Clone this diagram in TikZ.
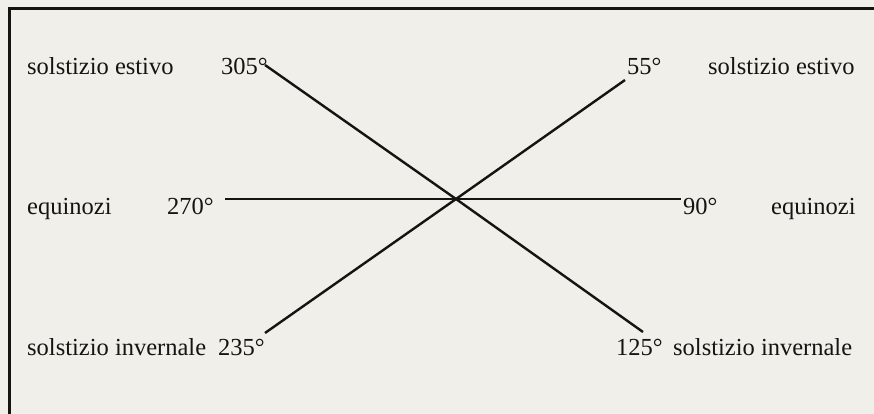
\documentclass[tikz,border=0pt]{standalone}
\usepackage{fontspec}
\setmainfont{Liberation Serif}
\definecolor{paper}{RGB}{240,239,234}
\definecolor{ink}{RGB}{22,20,18}
\begin{document}
\begin{tikzpicture}[x=1pt,y=-1pt,
  lbl/.style={anchor=base west,inner sep=0pt,text=ink,font=\fontsize{24.5}{29}\selectfont},
  frameline/.style={draw=ink,line width=3pt},
  axis/.style={draw=ink,line width=2.4pt}]
\fill[paper] (0,0) rectangle (874,414);
\useasboundingbox (0,0) rectangle (874,414);
% frame (top and left edges visible)
\coordinate (fTL) at (9,9);
\coordinate (fTR) at (874,9);
\coordinate (fBL) at (9,414);
\draw[frameline] (fTR) -- (fTL) -- (fBL);
% line ends
\coordinate (c) at (456,199);
\coordinate (e305) at (265,65);
\coordinate (e125) at (643,332);
\coordinate (e55) at (625,80);
\coordinate (e235) at (265,333);
\coordinate (e270) at (225,199);
\coordinate (e90) at (681,199);
\draw[axis] (e270) -- (c) -- (e90);
\draw[axis] (e305) -- (c) -- (e125);
\draw[axis] (e55) -- (c) -- (e235);
% labels
\node[lbl] (l1) at (27,75) {solstizio estivo};
\node[lbl] (n305) at (221,75) {305°};
\node[lbl] (n55) at (627,75) {55°};
\node[lbl] (r1) at (708,75) {solstizio estivo};
\node[lbl] (l2) at (27,214) {equinozi};
\node[lbl] (n270) at (167,214) {270°};
\node[lbl] (n90) at (683,214) {90°};
\node[lbl] (r2) at (771,214) {equinozi};
\node[lbl] (l3) at (27,355) {solstizio invernale};
\node[lbl] (n235) at (218,355) {235°};
\node[lbl] (n125) at (616,355) {125°};
\node[lbl] (r3) at (673,355) {solstizio invernale};
\end{tikzpicture}
\end{document}
